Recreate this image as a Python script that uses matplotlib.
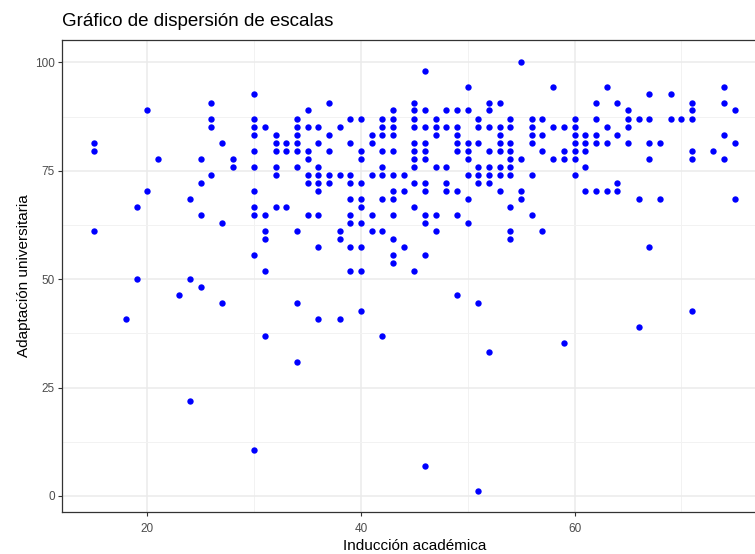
import matplotlib
matplotlib.use("Agg")
import matplotlib.pyplot as plt
from matplotlib.ticker import MultipleLocator

plt.rcParams['font.family'] = ['Liberation Sans', 'DejaVu Sans']

# --- datos ---
induccion = [
    15, 15, 15,
    18,
    19, 19,
    20, 20,
    21,
    23,
    24, 24, 24,
    25, 25, 25, 25,
    26, 26, 26, 26,
    27, 27, 27,
    28, 28,
    30, 30, 30, 30, 30, 30, 30, 30, 30, 30, 30,
    31, 31, 31, 31, 31, 31,
    32, 32, 32, 32, 32, 32,
    33, 33, 33,
    34, 34, 34, 34, 34, 34, 34, 34, 34,
    35, 35, 35, 35, 35, 35, 35,
    36, 36, 36, 36, 36, 36, 36, 36, 36,
    37, 37, 37, 37, 37,
    38, 38, 38, 38, 38,
    39, 39, 39, 39, 39, 39, 39, 39, 39,
    40, 40, 40, 40, 40, 40, 40, 40, 40, 40,
    41, 41, 41, 41, 41,
    42, 42, 42, 42, 42, 42, 42, 42, 42,
    43, 43, 43, 43, 43, 43, 43, 43, 43, 43, 43, 43,
    44, 44, 44,
    45, 45, 45, 45, 45, 45, 45, 45, 45, 45, 45,
    46, 46, 46, 46, 46, 46, 46, 46, 46, 46, 46, 46,
    47, 47, 47, 47, 47, 47,
    48, 48, 48, 48, 48,
    49, 49, 49, 49, 49, 49, 49, 49,
    50, 50, 50, 50, 50, 50, 50, 50,
    51, 51, 51, 51, 51, 51, 51, 51,
    52, 52, 52, 52, 52, 52, 52, 52,
    53, 53, 53, 53, 53, 53, 53, 53,
    54, 54, 54, 54, 54, 54, 54, 54, 54, 54,
    55, 55, 55, 55,
    56, 56, 56, 56, 56, 56,
    57, 57, 57, 57,
    58, 58, 58,
    59, 59, 59, 59,
    60, 60, 60, 60, 60, 60, 60,
    61, 61, 61, 61, 61,
    62, 62, 62, 62, 62,
    63, 63, 63, 63,
    64, 64, 64, 64,
    65, 65, 65, 65,
    66, 66, 66,
    67, 67, 67, 67, 67,
    68, 68,
    69, 69,
    70,
    71, 71, 71, 71, 71, 71,
    73,
    74, 74, 74, 74,
    75, 75, 75,
]

adaptacion = [
    81.5, 79.6, 61.1,
    40.7,
    66.7, 50.0,
    88.9, 70.4,
    77.8,
    46.3,
    68.5, 50.0, 21.9,
    77.8, 72.2, 64.8, 48.1,
    90.7, 87.0, 85.2, 74.1,
    81.5, 63.0, 44.4,
    77.8, 75.9,
    92.6, 87.0, 85.2, 83.3, 79.6, 75.9, 70.4, 66.7, 64.8, 55.6, 10.7,
    85.2, 64.8, 61.1, 59.3, 51.9, 37.0,
    83.3, 81.5, 79.6, 75.9, 74.1, 66.7,
    81.5, 79.6, 66.7,
    87.0, 85.2, 83.3, 81.5, 79.6, 75.9, 61.1, 44.4, 30.9,
    88.9, 85.2, 79.6, 77.8, 74.1, 72.2, 64.8,
    85.2, 81.5, 75.9, 74.1, 72.2, 70.4, 64.8, 57.4, 40.7,
    90.7, 83.3, 79.6, 74.1, 72.2,
    85.2, 74.1, 61.1, 59.3, 40.7,
    87.0, 81.5, 74.1, 72.2, 68.5, 64.8, 63.0, 57.4, 51.9,
    87.0, 79.6, 77.8, 72.2, 68.5, 66.7, 63.0, 57.4, 51.9, 42.6,
    83.3, 81.5, 74.1, 64.8, 61.1,
    87.0, 85.2, 83.3, 79.6, 75.9, 74.1, 68.5, 61.1, 37.0,
    88.9, 87.0, 85.2, 83.3, 79.6, 74.1, 70.4, 68.5, 64.8, 59.3, 55.6, 53.7,
    74.1, 70.4, 57.4,
    90.7, 88.9, 87.0, 85.2, 81.5, 79.6, 77.8, 75.9, 72.2, 66.7, 51.9,
    98.1, 88.9, 85.2, 81.5, 79.6, 77.8, 72.2, 70.4, 64.8, 63.0, 55.6, 7.0,
    87.0, 85.2, 83.3, 75.9, 64.8, 61.1,
    88.9, 85.2, 75.9, 72.2, 70.4,
    88.9, 85.2, 83.3, 81.5, 79.6, 70.4, 64.8, 46.3,
    94.4, 88.9, 81.5, 79.6, 77.8, 74.1, 68.5, 63.0,
    87.0, 85.2, 81.5, 75.9, 74.1, 72.2, 44.4, 1.2,
    90.7, 88.9, 85.2, 79.6, 75.9, 74.1, 72.2, 33.3,
    90.7, 85.2, 83.3, 81.5, 79.6, 75.9, 74.1, 70.4,
    87.0, 85.2, 81.5, 79.6, 77.8, 75.9, 74.1, 66.7, 61.1, 59.3,
    100.0, 77.8, 70.4, 68.5,
    87.0, 85.2, 83.3, 81.5, 74.1, 64.8,
    87.0, 83.3, 79.6, 61.1,
    94.4, 85.2, 77.8,
    85.2, 79.6, 77.8, 35.2,
    87.0, 85.2, 83.3, 81.5, 79.6, 77.8, 74.1,
    83.3, 81.5, 79.6, 75.9, 70.4,
    90.7, 87.0, 83.3, 81.5, 70.4,
    94.4, 85.2, 81.5, 70.4,
    90.7, 83.3, 72.2, 70.4,
    88.9, 87.0, 85.2, 81.5,
    87.0, 68.5, 38.9,
    92.6, 87.0, 81.5, 77.8, 57.4,
    81.5, 68.5,
    92.6, 87.0,
    87.0,
    90.7, 88.9, 87.0, 79.6, 77.8, 42.6,
    79.6,
    94.4, 90.7, 83.3, 77.8,
    88.9, 81.5, 68.5,
]

x_ticks = [20, 40, 60]
y_ticks = [0, 25, 50, 75, 100]

# --- grafico ---
fig = plt.figure(figsize=(7.55, 5.54), dpi=100)
ax = fig.add_axes([62 / 755, 1 - 512.2 / 554, 704.7 / 755, 472.4 / 554])

ax.scatter(induccion, adaptacion, s=21, color='#0000FF', linewidths=0, zorder=3)

ax.set_xlim(12, 78)
ax.set_ylim(-3.75, 105.2)
ax.set_xticks(x_ticks)
ax.set_yticks(y_ticks)
ax.xaxis.set_minor_locator(MultipleLocator(10))
ax.yaxis.set_minor_locator(MultipleLocator(12.5))

ax.grid(True, which='major', color='#EBEBEB', linewidth=1.1, zorder=0)
ax.grid(True, which='minor', color='#F2F2F2', linewidth=0.7, zorder=0)
ax.set_axisbelow(True)

for sp in ax.spines.values():
    sp.set_color('#333333')
    sp.set_linewidth(0.9)

ax.tick_params(which='major', length=3, width=0.8, color='#333333',
               labelcolor='#4D4D4D', labelsize=8.5)
ax.tick_params(axis='x', which='major', pad=5)
ax.tick_params(axis='y', which='major', pad=2)
ax.tick_params(which='minor', length=0)

ax.set_title("Gráfico de dispersión de escalas", loc='left', fontsize=13.5,
             color='black', pad=10)
ax.set_xlabel("Inducción académica", fontsize=11, labelpad=3)
ax.set_ylabel("Adaptación universitaria", fontsize=11, labelpad=3)

fig.savefig("out.png", dpi=100)
